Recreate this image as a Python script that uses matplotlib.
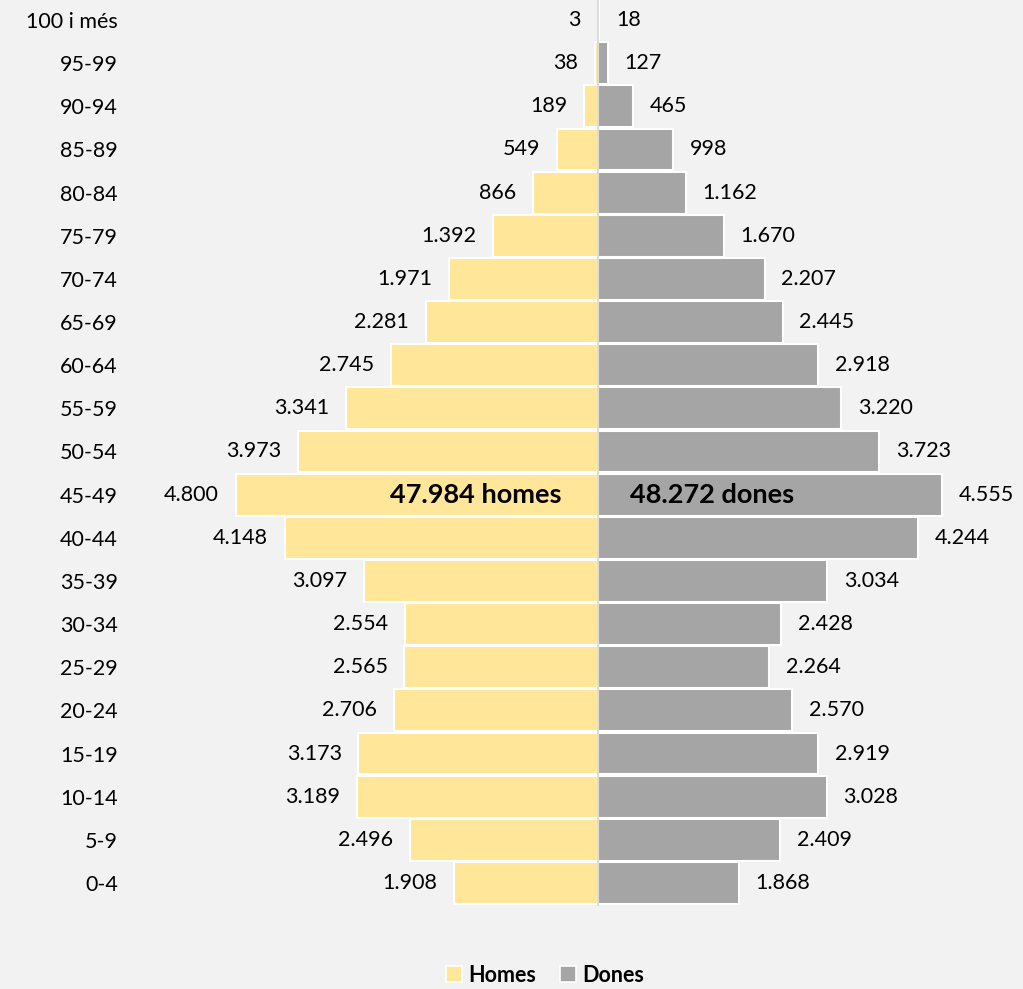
import matplotlib.pyplot as plt
import numpy as np

# Population pyramid data (oldest first)
groups = ["100 i més", "95-99", "90-94", "85-89", "80-84", "75-79", "70-74",
          "65-69", "60-64", "55-59", "50-54", "45-49", "40-44", "35-39",
          "30-34", "25-29", "20-24", "15-19", "10-14", "5-9", "0-4"]
homes = [3, 38, 189, 549, 866, 1392, 1971, 2281, 2745, 3341, 3973, 4800,
         4148, 3097, 2554, 2565, 2706, 3173, 3189, 2496, 1908]
dones = [18, 127, 465, 998, 1162, 1670, 2207, 2445, 2918, 3220, 3723, 4555,
         4244, 3034, 2428, 2264, 2570, 2919, 3028, 2409, 1868]
total_homes = "47.984 homes"
total_dones = "48.272 dones"

bg = "#F2F2F2"
yellow = "#FFE699"
grey = "#A5A5A5"

plt.rcParams['font.family'] = ['Lato', 'DejaVu Sans']


def fmt(v):
    return f"{v:,}".replace(",", ".")


W, H = 1023, 989
fig = plt.figure(figsize=(W / 100, H / 100), dpi=100, facecolor=bg)

# axes placed in pixel terms
left_px, right_px, top_px, bot_px = 140, 1023, 0, 930
ax = fig.add_axes([left_px / W, 1 - bot_px / H,
                   (right_px - left_px) / W, (bot_px - top_px) / H])
ax.set_facecolor(bg)

center_px = 598
ppu = 0.0755  # pixels per person
ax.set_xlim(-(center_px - left_px) / ppu, (right_px - center_px) / ppu)

n = len(groups)
y = np.arange(n)[::-1]
row_px = 43.15
ax.set_ylim(-(bot_px - 883) / row_px, (n - 1) + (20 - top_px) / row_px)

ax.barh(y, -np.array(homes), height=0.97, color=yellow,
        edgecolor="white", linewidth=1.5)
ax.barh(y, dones, height=0.97, color=grey,
        edgecolor="white", linewidth=1.5)

ax.plot([0, 0], [-0.5, n], color="#D9D9D9", lw=1.3, zorder=3)

for yi, h, d in zip(y, homes, dones):
    ax.annotate(fmt(h), (-h, yi), xytext=(-12, 0), textcoords="offset points",
                ha="right", va="center", fontsize=15.5, color="black")
    ax.annotate(fmt(d), (d, yi), xytext=(12, 0), textcoords="offset points",
                ha="left", va="center", fontsize=15.5, color="black")

mid = y[groups.index("45-49")]
ax.annotate(total_homes, (0, mid), xytext=(-26, 0), textcoords="offset points",
            ha="right", va="center", fontsize=19.5, fontweight="bold")
ax.annotate(total_dones, (0, mid), xytext=(23, 0), textcoords="offset points",
            ha="left", va="center", fontsize=19.5, fontweight="bold")

ax.set_yticks(y)
ax.set_yticklabels(groups, fontsize=15.5)
ax.tick_params(axis="y", length=0, pad=16)
ax.set_xticks([])
for s in ax.spines.values():
    s.set_visible(False)

h1 = plt.Rectangle((0, 0), 1, 1, fc=yellow, ec="white", lw=1.2)
h2 = plt.Rectangle((0, 0), 1, 1, fc=grey, ec="white", lw=1.2)
fig.legend([h1, h2], ["Homes", "Dones"], loc="center",
           bbox_to_anchor=(545 / W, 1 - 975 / H), ncol=2, frameon=False,
           prop={"weight": "bold", "size": 15.5}, handlelength=0.75,
           handleheight=0.75, handletextpad=0.3, columnspacing=1.1)

fig.savefig("out.png", dpi=100, facecolor=bg)
